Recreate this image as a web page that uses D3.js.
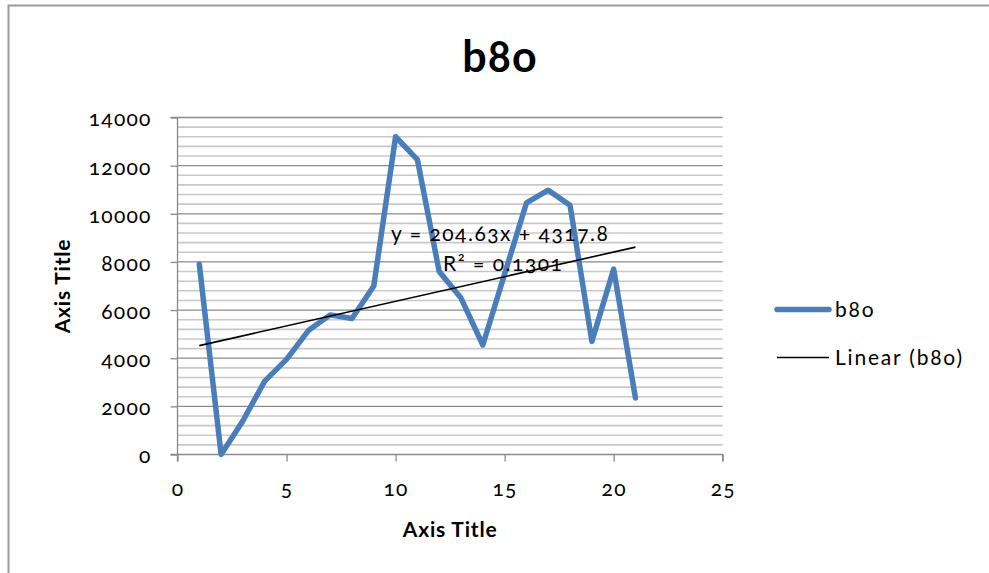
<!DOCTYPE html>
<html>
<head>
<meta charset="utf-8">
<script src="https://cdn.jsdelivr.net/npm/d3@7"></script>
<style>
  html, body { margin: 0; padding: 0; background: #fff; }
  svg { display: block; font-family: Lato, "Open Sans", sans-serif; font-variant-numeric: oldstyle-nums; font-feature-settings: "onum" 1; }
</style>
</head>
<body>
<svg id="chart" width="989" height="573"></svg>
<script>
// Series b8o: one value per x position 1..21
const xValues = [1, 2, 3, 4, 5, 6, 7, 8, 9, 10, 11, 12, 13, 14, 15, 16, 17, 18, 19, 20, 21];
const b80Values = [7900, 0, 1400, 3050, 3950, 5150, 5800, 5650, 7000, 13200, 12250,
                   7600, 6500, 4550, 7500, 10450, 10980, 10350, 4700, 7700, 2350];

// Linear trend reported on the chart
const trendSlope = 204.63;
const trendIntercept = 4317.8;
const trendR2 = 0.1301;

const xTicks = [0, 5, 10, 15, 20, 25];
const yTicks = [0, 2000, 4000, 6000, 8000, 10000, 12000, 14000];
const yMinorStep = 400;

const titleText = "b8o";
const xAxisTitle = "Axis Title";
const yAxisTitle = "Axis Title";
const legendLabels = ["b8o", "Linear (b8o)"];

const svg = d3.select("#chart");
const seriesColor = "#4a7ebb";
const fontFamily = "Lato, 'Open Sans', sans-serif";

// Plot area
const plot = { left: 177.5, right: 722.7, top: 117.5, bottom: 454.5 };

const x = d3.scaleLinear().domain([0, 25]).range([plot.left, plot.right]);
const y = d3.scaleLinear().domain([0, 14000]).range([plot.bottom, plot.top]);

// Outer chart frame
svg.append("rect")
  .attr("x", 8.5).attr("y", 5.5)
  .attr("width", 1000).attr("height", 600)
  .attr("fill", "none").attr("stroke", "#9a9a9a").attr("stroke-width", 2);

// Minor gridlines
const minorVals = d3.range(0, 14000 + 1, yMinorStep).filter(v => !yTicks.includes(v));
svg.append("g").selectAll("line").data(minorVals).join("line")
  .attr("x1", plot.left).attr("x2", plot.right)
  .attr("y1", d => y(d)).attr("y2", d => y(d))
  .attr("stroke", "#c8c8c8").attr("stroke-width", 1.6);

// Major gridlines
svg.append("g").selectAll("line").data(yTicks.filter(v => v > 0)).join("line")
  .attr("x1", plot.left).attr("x2", plot.right)
  .attr("y1", d => y(d)).attr("y2", d => y(d))
  .attr("stroke", "#8a8a8a").attr("stroke-width", 1.3);

// Y axis
const yAxis = d3.axisLeft(y).tickValues(yTicks).tickSize(7).tickPadding(19).tickFormat(d3.format("d"));
const gy = svg.append("g").attr("transform", `translate(${plot.left},0)`).call(yAxis);
gy.select(".domain").attr("stroke", "#8a8a8a").attr("stroke-width", 1.3).attr("d", `M-7,${plot.top}H0V${plot.bottom}H-7`);
gy.selectAll(".tick line").attr("stroke", "#8a8a8a").attr("stroke-width", 1.3);
gy.selectAll(".tick text").attr("font-size", 21).attr("fill", "#000").attr("dy", "0.4em")
  .style("font-family", fontFamily).style("letter-spacing", "1.2px");

// X axis
const xAxis = d3.axisBottom(x).tickValues(xTicks).tickSize(7).tickPadding(20).tickFormat(d3.format("d"));
const gx = svg.append("g").attr("transform", `translate(0,${plot.bottom})`).call(xAxis);
gx.select(".domain").attr("stroke", "#8a8a8a").attr("stroke-width", 1.3).attr("d", `M${plot.left},7V0H${plot.right}V7`);
gx.selectAll(".tick line").attr("stroke", "#8a8a8a").attr("stroke-width", 1.3);
gx.selectAll(".tick text").attr("font-size", 21).attr("fill", "#000")
  .style("font-family", fontFamily).style("letter-spacing", "1.2px");

// Series line
const data = xValues.map((d, i) => ({ x: d, y: b80Values[i] }));
const line = d3.line().x(d => x(d.x)).y(d => y(d.y));
svg.append("path").datum(data)
  .attr("d", line)
  .attr("fill", "none")
  .attr("stroke", seriesColor)
  .attr("stroke-width", 5.5)
  .attr("stroke-linejoin", "round")
  .attr("stroke-linecap", "round");

// Linear trendline across the data range
const xExt = d3.extent(xValues);
const trend = xExt.map(v => ({ x: v, y: trendSlope * v + trendIntercept }));
svg.append("path").datum(trend)
  .attr("d", line)
  .attr("fill", "none")
  .attr("stroke", "#000")
  .attr("stroke-width", 1.6);

// Trendline equation and R²
svg.append("text")
  .attr("x", 391).attr("y", 240.5)
  .attr("font-size", 21).attr("fill", "#000")
  .style("letter-spacing", "1.5px")
  .text(`y = ${trendSlope}x + ${trendIntercept}`);
svg.append("text")
  .attr("x", 443).attr("y", 271)
  .attr("font-size", 21).attr("fill", "#000")
  .style("letter-spacing", "1.5px")
  .text(`R² = ${trendR2}`);

// Title
svg.append("text")
  .attr("x", 500).attr("y", 72)
  .attr("text-anchor", "middle")
  .attr("font-size", 43).attr("font-weight", "bold").attr("fill", "#000")
  .style("letter-spacing", "1px")
  .text(titleText);

// Axis titles
svg.append("text")
  .attr("x", (plot.left + plot.right) / 2).attr("y", 537)
  .attr("text-anchor", "middle")
  .attr("font-size", 21).attr("font-weight", "bold").attr("fill", "#000")
  .style("letter-spacing", "0.8px")
  .text(xAxisTitle);
svg.append("text")
  .attr("transform", `translate(70,${(plot.top + plot.bottom) / 2}) rotate(-90)`)
  .attr("text-anchor", "middle")
  .attr("font-size", 21).attr("font-weight", "bold").attr("fill", "#000")
  .style("letter-spacing", "0.8px")
  .text(yAxisTitle);

// Legend
const legend = svg.append("g");
const legendY = [309.5, 357.5];
legend.append("line")
  .attr("x1", 777).attr("x2", 829).attr("y1", legendY[0]).attr("y2", legendY[0])
  .attr("stroke", seriesColor).attr("stroke-width", 5.5).attr("stroke-linecap", "round");
legend.append("line")
  .attr("x1", 777).attr("x2", 829).attr("y1", legendY[1]).attr("y2", legendY[1])
  .attr("stroke", "#000").attr("stroke-width", 1.6);
legend.selectAll("text").data(legendLabels).join("text")
  .attr("x", 835).attr("y", (d, i) => legendY[i] + 7)
  .attr("font-size", 21).attr("fill", "#000")
  .style("letter-spacing", "1.8px")
  .text(d => d);
</script>
</body>
</html>
